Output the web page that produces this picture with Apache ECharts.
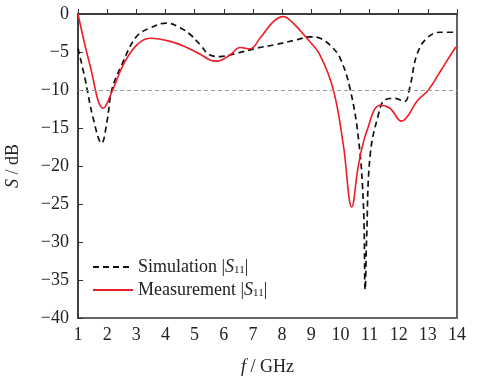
<!DOCTYPE html>
<html>
<head>
<meta charset="utf-8">
<script src="https://cdn.jsdelivr.net/npm/echarts@6/dist/echarts.min.js"></script>
<style>
  html, body { margin: 0; padding: 0; background: #fff; }
  #main { width: 477px; height: 378px; }
</style>
</head>
<body>
<div id="main"></div>
<script>
// simulated |S11| (GHz, dB)
var simFreq = [1, 1.24, 1.52, 1.81, 2.0, 2.16, 2.5, 3.0, 3.5, 4.04, 4.5, 4.85, 5.2, 5.53, 5.87, 6.5, 7.13, 7.8, 8.5, 8.96, 9.24, 9.41, 9.7, 9.99, 10.33, 10.62, 10.79, 10.85, 10.9, 11.02, 11.3, 11.53, 11.87, 12.2, 12.39, 12.62, 12.96, 13.42, 14];
var simS11 = [-4.5, -8.5, -13.7, -17.0, -14.0, -10.0, -6.7, -3.0, -1.8, -1.2, -1.8, -2.7, -4.1, -5.4, -5.6, -5.1, -4.5, -4.0, -3.4, -3.0, -3.1, -3.4, -4.3, -5.8, -9.8, -16.4, -25.1, -36.3, -29.5, -18.6, -13.3, -11.3, -11.1, -11.5, -9.5, -5.4, -3.2, -2.4, -2.4];

// measured |S11|
var measFreq = [1, 1.41, 1.87, 2.21, 2.55, 3.01, 3.47, 4.16, 4.73, 5.19, 5.53, 5.76, 6.21, 6.56, 6.9, 7.24, 7.7, 8.04, 8.38, 8.85, 9.3, 9.76, 10.1, 10.39, 10.62, 10.9, 11.36, 11.7, 12.1, 12.3, 12.62, 13.02, 13.42, 13.93, 14];
var measS11 = [0, -6.7, -12.4, -9.8, -6.7, -4.1, -3.2, -3.6, -4.4, -5.3, -6.05, -6.2, -5.4, -4.4, -4.6, -3.2, -1.0, -0.35, -1.2, -3.2, -5.4, -10.0, -17.2, -25.4, -19.9, -15.5, -12.0, -12.4, -14.1, -13.5, -11.5, -10.0, -7.6, -4.5, -4.3];

var refLevel = -10;

function pairs(xs, ys) {
    return xs.map(function (x, i) { return [x, ys[i]]; });
}

var font = '"Liberation Serif", "Times New Roman", serif';
var sub = {
    i: { fontFamily: font, fontSize: 18, fontStyle: 'italic', color: '#222' },
    s: { fontFamily: font, fontSize: 11, color: '#222', verticalAlign: 'bottom', padding: [7, 0, 0, 0] },
    n: { fontFamily: font, fontSize: 18, color: '#222' }
};

var myChart = echarts.init(document.getElementById('main'));
myChart.setOption({
    animation: false,
    grid: {
        left: 78, right: 20, top: 14, bottom: 60,
        outerBoundsMode: 'none',
        show: true, borderColor: '#333', borderWidth: 1.5,
        backgroundColor: 'transparent'
    },
    legend: {
        orient: 'vertical',
        left: 87, top: 253,
        itemWidth: 40, itemHeight: 12, itemGap: 5,
        data: ['Simulation', 'Measurement'],
        itemStyle: { opacity: 0 },
        formatter: function (name) {
            return '{n|' + name + ' |}{i|S}{s|11}{n||}';
        },
        textStyle: { fontFamily: font, fontSize: 18, color: '#222', rich: sub }
    },
    xAxis: {
        type: 'value',
        min: 1, max: 14, interval: 1,
        name: '{i|f}{n| / GHz}',
        nameLocation: 'middle',
        nameGap: 40,
        nameTextStyle: { rich: sub },
        axisLine: { lineStyle: { color: '#333', width: 1.5 } },
        axisTick: { inside: true, length: 5, lineStyle: { color: '#333' } },
        axisLabel: { fontFamily: font, fontSize: 18, color: '#222', margin: 8 },
        splitLine: { show: false }
    },
    yAxis: {
        type: 'value',
        min: -40, max: 0, interval: 5,
        name: '{i|S}{n| / dB}',
        nameLocation: 'middle',
        nameGap: 56,
        nameRotate: 90,
        nameTextStyle: { rich: sub },
        axisLine: { lineStyle: { color: '#333', width: 1.5 } },
        axisTick: { inside: true, length: 5, lineStyle: { color: '#333' } },
        axisLabel: {
            fontFamily: font, fontSize: 18, color: '#222', margin: 9,
            formatter: function (v) { return String(v).replace('-', '\u2212'); }
        },
        splitLine: { show: false }
    },
    series: [
        {
            name: 'Simulation',
            type: 'line',
            data: pairs(simFreq, simS11),
            smooth: 0.4,
            symbol: 'none',
            itemStyle: { color: '#111' },
            lineStyle: { color: '#111', width: 1.7, type: [6, 4] },
            markLine: {
                silent: true,
                symbol: 'none',
                label: { show: false },
                lineStyle: { color: '#999', width: 1, type: [4, 3] },
                data: [{ yAxis: refLevel }]
            },
            z: 3
        },
        {
            name: 'Measurement',
            type: 'line',
            data: pairs(measFreq, measS11),
            smooth: 0.4,
            symbol: 'none',
            itemStyle: { color: '#ee1c25' },
            lineStyle: { color: '#ee1c25', width: 1.6 },
            z: 4
        }
    ]
});
</script>
</body>
</html>
